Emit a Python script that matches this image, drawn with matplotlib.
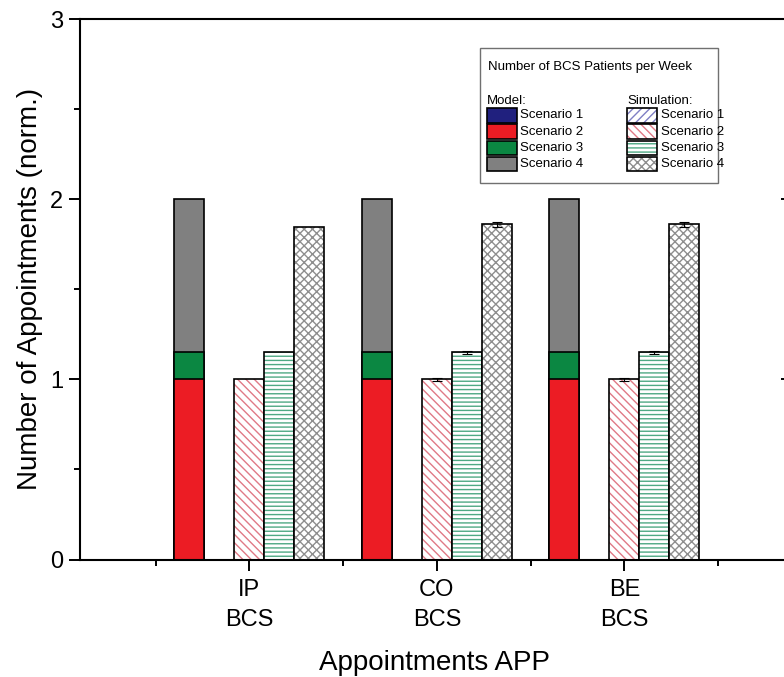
import numpy as np
import matplotlib
matplotlib.use("Agg")
import matplotlib.pyplot as plt
from matplotlib.patches import Rectangle
from matplotlib.ticker import MultipleLocator, FixedLocator

plt.rcParams['font.family'] = ['Liberation Sans', 'DejaVu Sans']
plt.rcParams['hatch.linewidth'] = 1.0

# -----------------------------
# data (normalised appointments)
# -----------------------------
apps = ["IP\nBCS", "CO\nBCS", "BE\nBCS"]

model_s1 = [0.0, 0.0, 0.0]
model_s2 = [1.0, 1.0, 1.0]
model_s3 = [1.155, 1.155, 1.155]
model_s4 = [2.0, 2.0, 2.0]

sim_s1 = [0.0, 0.0, 0.0]
sim_s2 = [1.0, 1.0, 1.0]
sim_s3 = [1.152, 1.15, 1.152]
sim_s4 = [1.846, 1.861, 1.861]

sim_err_s2 = [0.0, 0.01, 0.01]
sim_err_s3 = [0.0, 0.008, 0.008]
sim_err_s4 = [0.0, 0.012, 0.012]

scenarios = ["Scenario 1", "Scenario 2", "Scenario 3", "Scenario 4"]

# styles
model_colors = ["#20207e", "#ec1c24", "#0b8742", "#808080"]
sim_hatch_colors = ["#7f7fc4", "#e07a86", "#4fa984", "#8e8e8e"]
sim_hatches = ["////", "\\\\\\\\", "----", "xxxx"]

W, H = 784, 677
fig = plt.figure(figsize=(W / 100, H / 100), dpi=100)

# axes box in pixels: left 80, right 789, top 19.3, bottom 559.5
ax = fig.add_axes([80 / W, (H - 559.5) / H, 709 / W, 540.2 / H])

x = np.arange(len(apps))
bw = 0.16

# model bars, overlapping from the largest down
for vals, col in zip([model_s4, model_s3, model_s2, model_s1],
                     model_colors[::-1]):
    ax.bar(x - 2 * bw, vals, bw, color=col, edgecolor="black", linewidth=1.2)


def hatched_bar(pos, vals, hcol, hatch, err=None):
    ax.bar(pos, vals, bw, facecolor="white", edgecolor=hcol, hatch=hatch,
           linewidth=0)
    ax.bar(pos, vals, bw, fill=False, edgecolor="black", linewidth=1.2)
    if err is not None:
        err = np.array(err)
        m = err > 0
        ax.errorbar(pos[m], np.array(vals)[m], yerr=err[m], fmt="none",
                    ecolor="black", elinewidth=0.8, capsize=3.5,
                    capthick=0.8)


sim_vals = [sim_s1, sim_s2, sim_s3, sim_s4]
sim_errs = [None, sim_err_s2, sim_err_s3, sim_err_s4]
for i in range(4):
    hatched_bar(x + (i - 1) * bw, sim_vals[i], sim_hatch_colors[i],
                sim_hatches[i], sim_errs[i])

# axes styling
ax.set_xlim(-0.903, 2.878)
ax.set_ylim(0, 3)
ax.set_xticks(x)
ax.set_xticklabels(apps, fontsize=17, linespacing=1.45)
ax.xaxis.set_minor_locator(FixedLocator([-0.5, 0.5, 1.5, 2.5]))
ax.yaxis.set_major_locator(MultipleLocator(1))
ax.yaxis.set_minor_locator(MultipleLocator(0.5))
ax.tick_params(axis="both", which="major", direction="out", length=8,
               width=1.4, labelsize=17, pad=4)
ax.tick_params(axis="both", which="minor", direction="out", length=4.5,
               width=1.4)
ax.tick_params(axis="x", which="major", pad=6)
for s in ax.spines.values():
    s.set_linewidth(1.5)

ax2 = ax.secondary_yaxis("right")
ax2.yaxis.set_major_locator(MultipleLocator(1))
ax2.tick_params(direction="in", length=6, width=1.4, labelright=False)

ax.set_ylabel("Number of Appointments (norm.)", fontsize=20, labelpad=5)
ax.set_xlabel("Appointments APP", fontsize=20, labelpad=14)


# legend box (pixel layout, top-left origin)
def fx(px):
    return px / W


def fy(py):
    return 1 - py / H


fig.patches.append(Rectangle((fx(480), fy(183)), (718 - 480) / W, (183 - 48) / H,
                             transform=fig.transFigure, facecolor="white",
                             edgecolor="#707070", linewidth=1.0))
fig.text(fx(488), fy(67), "Number of BCS Patients per Week", fontsize=9.5,
         va="center", ha="left")
fig.text(fx(487), fy(101), "Model:", fontsize=9.5, va="center", ha="left")
fig.text(fx(627), fy(101), "Simulation:", fontsize=9.5, va="center", ha="left")

row_h = 16.2
for i, name in enumerate(scenarios):
    cy = 115.5 + i * row_h
    fig.patches.append(Rectangle((fx(487), fy(cy + 7.2)), 30 / W, 14.4 / H,
                                 transform=fig.transFigure,
                                 facecolor=model_colors[i],
                                 edgecolor="black", linewidth=1.2))
    fig.text(fx(520), fy(cy), name, fontsize=9.5, va="center", ha="left")

    fig.patches.append(Rectangle((fx(627), fy(cy + 7.2)), 30 / W, 14.4 / H,
                                 transform=fig.transFigure, facecolor="white",
                                 edgecolor=sim_hatch_colors[i],
                                 hatch=sim_hatches[i], linewidth=0))
    fig.patches.append(Rectangle((fx(627), fy(cy + 7.2)), 30 / W, 14.4 / H,
                                 transform=fig.transFigure, fill=False,
                                 edgecolor="black", linewidth=1.2))
    fig.text(fx(661), fy(cy), name, fontsize=9.5, va="center", ha="left")

fig.savefig("out.png", dpi=100)
